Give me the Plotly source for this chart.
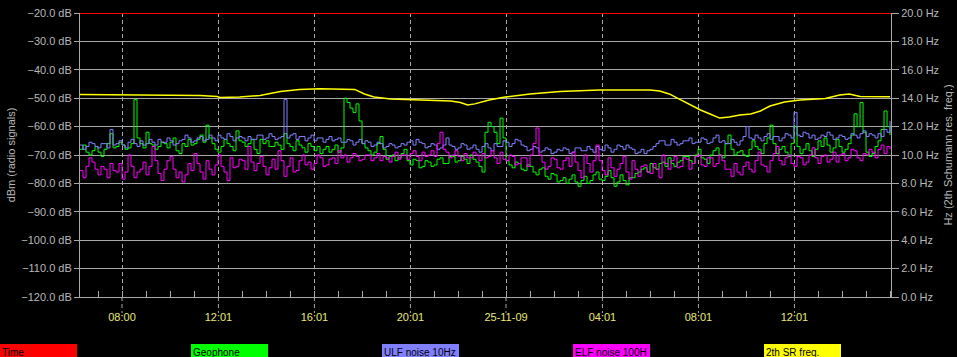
import plotly.graph_objects as go

# ---------------- data ----------------
# time axis: hours since 2009-11-24 00:00, one reading every 7.5 minutes
t_start = 6.25
t_step = 0.125

ulf_noise = [
    -66.5, -68, -67, -65.5, -66, -67, -67.5, -66, -66, -67.5, -61, -66.5, -66, -65, -66.5, -67.5, -65.5, -64.5, -66, -67,
    -65, -66.5, -66, -64.5, -65.5, -66.5, -64.5, -65.5, -65.5, -64, -65, -66.5, -66, -65, -64.5, -63, -64, -65.5, -65, -64,
    -63.5, -65, -64.5, -63, -64, -65, -63, -64, -64.5, -62.5, -63.5, -65, -64, -63.5,
    -64, -65, -63.5, -64.5, -64.5, -63, -63, -64.5, -64, -62.5, -63.5, -64.5, -64, -63.5, -50.5, -64, -63, -62.5, -64.5, -63.5,
    -63.5, -65, -64, -63, -65, -64, -64, -65.5, -64.5, -63.5, -65, -64.5, -64, -65.5, -65.5, -64.5, -65, -66.5, -65.5, -64.5,
    -66, -65, -65.5, -67, -66.5, -65.5, -66, -67.5, -67, -66, -66.5, -67.5, -67, -66,
    -66.5, -65.5, -65, -66.5, -64.5, -65.5, -66, -67.5, -67, -66, -66.5, -68, -67.5, -66.5, -64, -66.5, -67, -68, -67.5, -66,
    -66.5, -68, -67.5, -66.5, -68, -69, -67, -66, -67.5, -68.5, -66, -67, -67, -65, -65.5, -67, -66, -64.5, -65, -66.5,
    -67, -68.5, -68, -67, -67.5, -69, -68.5, -67.5, -68, -69.5, -69, -68, -68.5, -67.5,
    -68, -69.5, -69, -67.5, -67.5, -68.5, -68.5, -67, -68, -69, -67, -68, -68.5, -66.5, -67.5, -69, -68, -66.5, -67, -68,
    -66.5, -67.5, -68, -69.5, -69, -68, -69.5, -68.5, -68, -67, -66, -65, -65, -66.5, -66.5, -64.5, -65.5, -66.5, -66, -65,
    -65, -64, -66, -65.5, -65.5, -64, -64.5, -66, -65.5, -64, -63, -65.5, -65, -66,
    -66, -64.5, -65.5, -66.5, -65, -63.5, -60, -64, -64.5, -63, -64, -65, -63.5, -62.5, -64.5, -63.5, -63.5, -65, -64, -62.5,
    -63, -64, -55, -63, -63.5, -62, -62.5, -64, -63, -64.5, -64, -63, -63.5, -62, -63, -64.5, -64, -63, -63.5, -64.5,
    -64, -62.5, -63, -64, -62.5, -61.5, -63.5, -62.5, -63, -64, -62.5, -63.5, -61, -62, -58,
]

geophone = [
    -68, -66.5, -69, -70, -68.5, -67, -69, -70.5, -68, -66, -62.5, -67.5, -67, -65.5, -66.5, -68, -67.5, -66, -50.5, -64,
    -66, -67.5, -62, -66, -66.5, -68, -67, -65.5, -66, -67.5, -65.5, -64, -68.5, -69.5, -66, -67, -64.5, -66.5, -66, -64.5,
    -63, -65.5, -59.5, -64, -66, -68, -69, -67, -64.5, -66, -67, -68.5, -61.5, -65,
    -65.5, -67, -66, -64.5, -68, -69.5, -64.5, -66, -65, -67, -67, -65.5, -66.5, -68, -62.5, -66, -67, -68.5, -65, -66.5,
    -67.5, -69, -66, -67, -68.5, -67, -69.5, -68, -67, -69, -68, -66.5, -69, -67.5, -50, -51.5, -53.5, -55, -52, -58,
    -66, -67.5, -68.5, -70, -69, -66, -63.5, -68, -71.5, -70.5, -70, -72, -71, -69.5,
    -68, -72, -73.5, -71.5, -72, -74.5, -74, -72, -72.5, -74, -73.5, -71.5, -71, -73, -73, -70.5, -70.5, -72.5, -72, -70.5,
    -71.5, -73, -70, -71.5, -72.5, -74, -76, -62, -58.5, -60, -62, -66, -57, -64, -72, -73.5, -74.5, -72.5, -73, -75,
    -75.5, -73.5, -74, -76, -77, -75, -74.5, -77.5, -78.5, -76.5, -77, -79.5, -79, -78,
    -80, -78.5, -77, -79.5, -81, -79, -77.5, -80, -79, -77, -76, -78.5, -79, -77.5, -75.5, -78, -81, -79.5, -77, -79,
    -80.5, -78, -78, -76.5, -76, -75, -74.5, -76, -73, -74.5, -75, -73, -72.5, -74, -71, -73, -74, -72.5, -72, -70.5,
    -70.5, -72, -73, -70, -68, -71, -71.5, -73, -70, -68.5, -67.5, -70, -71, -66,
    -63, -68, -70, -69, -68.5, -70, -70.5, -68, -65, -67, -68, -69.5, -66, -64, -59.5, -66, -69.5, -68, -67, -69,
    -70.5, -66, -60, -67, -69.5, -68, -66, -68.5, -70.5, -68, -65, -67, -64, -66.5, -69, -67.5, -64.5, -67, -69, -68,
    -66, -63, -55.5, -60, -51.5, -62, -69, -70.5, -69.5, -67, -65, -61, -54.5, -60, -63,
]

elf_noise = [
    -75.5, -78, -74, -71, -72.5, -75, -77, -74, -75, -78, -73, -75.5, -76, -73, -78.5, -76, -70, -74, -78, -76,
    -75, -72.5, -77, -74, -67, -72, -76.5, -79, -75, -72, -70.5, -75, -78, -76, -79.5, -77, -73, -75.5, -69.5, -73,
    -76, -78.5, -72, -75, -77, -73.5, -70, -74, -76, -79, -71, -74.5, -74, -71.5,
    -72, -75, -67, -72.5, -75.5, -73, -70.5, -74, -77, -74.5, -71.5, -75, -68.5, -72, -77.5, -74, -71, -76, -75.5, -72,
    -70, -73.5, -72.5, -75, -73, -70, -71, -74, -73.5, -71.5, -71, -73, -68.5, -71, -70, -72.5, -71, -69.5, -70.5, -72,
    -71.5, -70, -70, -72, -71, -69.5, -72, -70.5, -71, -72.5, -70.5, -69, -71.5, -70,
    -70, -71.5, -69.5, -68.5, -70.5, -72, -69, -70.5, -70, -68.5, -70.5, -66, -62, -68, -69, -71, -70, -68.5, -70.5, -72,
    -69.5, -71, -71, -69, -70, -72, -69.5, -71, -70.5, -68.5, -71, -73, -69, -71.5, -72, -70, -70.5, -73.5, -73, -71,
    -71, -74, -70, -66, -60.5, -70, -72.5, -75, -74, -71, -71.5, -74.5, -75, -72,
    -71, -74, -69, -72.5, -75.5, -78, -70, -73, -76, -72, -66.5, -72, -75.5, -77, -71, -74.5, -77.5, -75, -73, -70.5,
    -76, -78.5, -72, -75, -77.5, -74, -73.5, -76, -76.5, -73, -75, -78, -70, -73, -75, -72, -70.5, -74.5, -74, -71,
    -71.5, -75, -73, -70.5, -70, -73.5, -74, -71, -71, -74, -73, -70, -72, -75,
    -75, -77.5, -73, -76, -77, -74, -72.5, -75, -76, -72, -69, -73.5, -74, -76, -72, -69.5, -67, -72, -73.5, -71,
    -70, -73, -74, -70.5, -71, -73.5, -72.5, -70, -67.5, -71, -73, -70.5, -70, -72.5, -71.5, -69, -72.5, -70, -69.5, -72,
    -71, -68, -68.5, -71, -72, -69.5, -70, -68, -69, -71, -68, -66.5, -69.5, -67, -68,
]

sr_hours = [6.25, 9.17, 11.25, 11.96, 12.08, 12.9, 13.75, 14.6, 15.4, 16.25, 17.5, 17.7, 18.1, 18.5, 19.2, 20.0,
            20.8, 21.7, 22.1, 22.4, 22.7, 23.3, 23.96, 25.0, 26.25, 27.9, 30.0, 30.4, 30.8, 31.5, 32.1, 32.5,
            32.9, 33.3, 33.75, 34.2, 34.6, 35.0, 35.6, 36.25, 37.3, 37.9, 38.3, 38.75, 39.4, 40.0]
sr_freq = [14.26, 14.22, 14.19, 14.12, 14.05, 14.08, 14.19, 14.47, 14.61, 14.67, 14.67, 14.62, 14.3, 14.08, 13.94, 13.91,
           13.84, 13.8, 13.7, 13.52, 13.6, 13.87, 14.08, 14.3, 14.47, 14.58, 14.58, 14.5, 14.3, 13.66, 13.17, 12.89,
           12.6, 12.68, 12.82, 12.89, 13.1, 13.45, 13.73, 13.87, 13.98, 14.22, 14.3, 14.12, 14.12, 14.1]

time_level = [-20, -20]
time_hours = [6.25, 40.04]

tick_hours = [8.0, 12 + 1/60, 16 + 1/60, 20 + 1/60, 24.0, 28 + 1/60, 32 + 1/60, 36 + 1/60]
tick_labels = ["08:00", "12:01", "16:01", "20:01", "25-11-09", "04:01", "08:01", "12:01"]

legend_names = ["Time", "Geophone", "ULF noise 10Hz", "ELF noise 100H", "2th SR freq."]
legend_colors = ["#ff0000", "#00ff00", "#8080ff", "#ff00ff", "#ffff00"]


def times_for(series):
    return [t_start + t_step * i for i in range(len(series))]


# ---------------- figure ----------------
W, H = 957, 357
ML, MR, MT, MB = 80, 66, 13, 60
PW, PH = W - ML - MR, H - MT - MB
GRID = "#a8a8a8"
LABEL = "#b8b8b8"
FONT = "Liberation Sans, Arial, sans-serif"

fig = go.Figure()
fig.add_trace(go.Scatter(x=time_hours, y=time_level, mode="lines", name=legend_names[0],
                         line=dict(color=legend_colors[0], width=2)))
fig.add_trace(go.Scatter(x=times_for(geophone), y=geophone, mode="lines", name=legend_names[1],
                         line=dict(color=legend_colors[1], width=1, shape="hv")))
fig.add_trace(go.Scatter(x=times_for(ulf_noise), y=ulf_noise, mode="lines", name=legend_names[2],
                         line=dict(color=legend_colors[2], width=1, shape="hv")))
fig.add_trace(go.Scatter(x=times_for(elf_noise), y=elf_noise, mode="lines", name=legend_names[3],
                         line=dict(color=legend_colors[3], width=1, shape="hv")))
fig.add_trace(go.Scatter(x=sr_hours, y=sr_freq, mode="lines", name=legend_names[4], yaxis="y2",
                         line=dict(color=legend_colors[4], width=1.5)))


def px_x(p):
    return (p - ML) / PW


def px_y(p):
    return (MT + PH - p) / PH


shapes = []
annotations = []
# dashed extensions of the major gridlines below the axis
for tv in tick_hours:
    shapes.append(dict(type="line", xref="x", yref="paper", x0=tv, x1=tv, y0=0, y1=px_y(313),
                       line=dict(color=GRID, width=1, dash="4px,3px")))
# legend boxes along the bottom
for k, (nm, col) in enumerate(zip(legend_names, legend_colors)):
    left = 191 * k
    shapes.append(dict(type="rect", xref="paper", yref="paper",
                       x0=px_x(left), x1=px_x(left + 77), y0=px_y(360), y1=px_y(344),
                       fillcolor=col, line=dict(width=0), layer="above"))
    annotations.append(dict(xref="paper", yref="paper", x=px_x(left), y=px_y(352),
                            xanchor="left", yanchor="middle", text=nm, showarrow=False,
                            font=dict(family=FONT, size=10, color="#000000")))

fig.update_layout(
    width=W, height=H,
    margin=dict(l=ML, r=MR, t=MT, b=MB, autoexpand=False),
    paper_bgcolor="black", plot_bgcolor="black",
    showlegend=False,
    font=dict(family=FONT, size=11, color=LABEL),
    shapes=shapes, annotations=annotations,
    xaxis=dict(range=[6.25, 40.04], tickmode="array", tickvals=tick_hours, ticktext=tick_labels,
               tickfont=dict(color="#e8e878", size=11), ticks="", ticklabelstandoff=10,
               showgrid=True, gridcolor=GRID, gridwidth=1, griddash="4px,3px",
               showline=True, linecolor=GRID, linewidth=1, zeroline=False, automargin=False,
               minor=dict(ticks="inside", ticklen=6, tickcolor=GRID, tick0=0, dtick=1, showgrid=False)),
    yaxis=dict(range=[-120, -20], tick0=-120, dtick=10, tickformat=".1f", ticksuffix=" dB",
               ticks="outside", ticklen=5, tickcolor=GRID, automargin=False,
               showgrid=True, gridcolor=GRID, gridwidth=1, zeroline=False,
               showline=True, linecolor=GRID, linewidth=1,
               title=dict(text="dBm (radio signals)", standoff=3, font=dict(size=11, color=LABEL))),
    yaxis2=dict(range=[0, 20], tick0=0, dtick=2, tickformat=".1f", ticksuffix=" Hz",
                overlaying="y", side="right", ticks="outside", ticklen=7, tickcolor=GRID,
                showgrid=False, zeroline=False, showline=True, linecolor=GRID, linewidth=1,
                automargin=False,
                title=dict(text="Hz (2th Schumann res. freq.)", standoff=6, font=dict(size=11, color=LABEL))),
)

fig.write_html("out.html")
